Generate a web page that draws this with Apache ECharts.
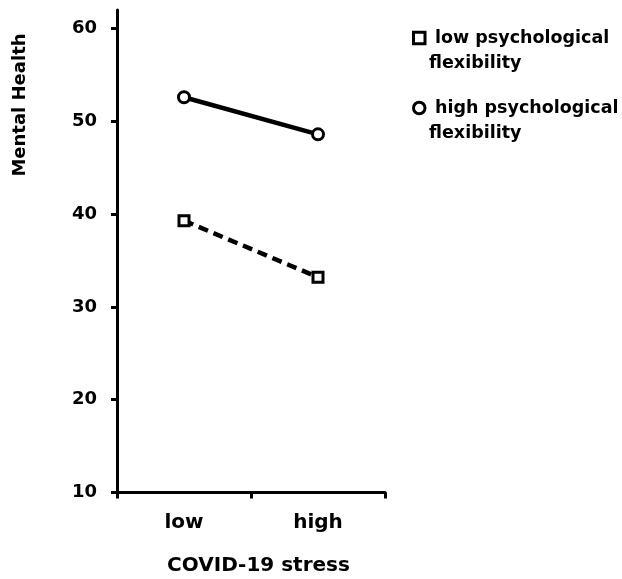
<!DOCTYPE html>
<html>
<head>
<meta charset="utf-8">
<script src="https://cdn.jsdelivr.net/npm/echarts@6/dist/echarts.min.js"></script>
<style>html,body{margin:0;padding:0;background:#fff}#c{width:622px;height:579px}</style>
</head>
<body>
<div id="c"></div>
<script>
var categories = ['low', 'high'];
var lowFlex = [39.3, 33.2];
var highFlex = [52.6, 48.6];
var yTicks = [10, 20, 30, 40, 50, 60];
var seriesNames = ['low psychological flexibility', 'high psychological flexibility'];
var xTitle = 'COVID-19 stress';
var yTitle = 'Mental Health';

var FONT = 'DejaVu Sans';
var chart = echarts.init(document.getElementById('c'));

function legendFmt(name) {
  var i = name.indexOf(' flexibility');
  return '{a|' + name.slice(0, i) + '}\n{b|' + name.slice(i + 1) + '}';
}
function legendCfg(name, icon, top) {
  var tok = {fontFamily: FONT, fontWeight: 'bold', fontSize: 17.5, lineHeight: 25, color: '#000'};
  return {
    left: 412, top: top, orient: 'vertical', padding: 0,
    itemWidth: 11.5, itemHeight: 11.5, selectedMode: false,
    data: [{name: name, icon: icon, itemStyle: {color: '#fff', borderColor: '#000', borderWidth: 3}}],
    formatter: legendFmt,
    textStyle: {
      fontFamily: FONT, fontWeight: 'bold', fontSize: 17.5, lineHeight: 25, color: '#000',
      padding: [25, 0, 0, 0],
      rich: {
        a: Object.assign({padding: [0, 0, 0, 5]}, tok),
        b: Object.assign({padding: [0, 0, 0, -1]}, tok)
      }
    }
  };
}

chart.setOption({
  animation: false,
  backgroundColor: '#fff',
  grid: {left: 117, right: 237, top: 10, bottom: 86.5},
  xAxis: {
    type: 'category', data: categories, boundaryGap: true,
    axisLine: {lineStyle: {color: '#000', width: 3}},
    axisTick: {show: true, length: 6, lineStyle: {color: '#000', width: 3}},
    axisLabel: {color: '#000', fontFamily: FONT, fontWeight: 'bold', fontSize: 20, margin: 20}
  },
  yAxis: {
    type: 'value', min: 10, max: 62,
    splitLine: {show: false},
    axisLine: {show: true, lineStyle: {color: '#000', width: 3}},
    axisTick: {show: true, length: 6, lineStyle: {color: '#000', width: 3}, customValues: yTicks},
    axisLabel: {color: '#000', fontFamily: FONT, fontWeight: 'bold', fontSize: 18, margin: 20, customValues: yTicks}
  },
  legend: [
    legendCfg(seriesNames[0], 'rect', 0.5),
    legendCfg(seriesNames[1], 'circle', 70.5)
  ],
  graphic: [
    {type: 'text', x: 258.5, y: 565.5, silent: true,
     style: {text: xTitle, fill: '#000', font: 'bold 20px "DejaVu Sans"', align: 'center', verticalAlign: 'middle'}},
    {type: 'text', x: 20.5, y: 105, rotation: Math.PI / 2, silent: true,
     style: {text: yTitle, fill: '#000', font: 'bold 18px "DejaVu Sans"', align: 'center', verticalAlign: 'middle'}}
  ],
  series: [
    {
      name: seriesNames[0], type: 'line', data: lowFlex,
      symbol: 'rect', symbolSize: 10, showSymbol: true,
      lineStyle: {color: '#000', width: 4.5, type: [10, 6]},
      itemStyle: {color: '#fff', borderColor: '#000', borderWidth: 3},
      emphasis: {disabled: true}, z: 3
    },
    {
      name: seriesNames[1], type: 'line', data: highFlex,
      symbol: 'circle', symbolSize: 11, showSymbol: true,
      lineStyle: {color: '#000', width: 4.5},
      itemStyle: {color: '#fff', borderColor: '#000', borderWidth: 3},
      emphasis: {disabled: true}, z: 3
    }
  ]
});
</script>
</body>
</html>
